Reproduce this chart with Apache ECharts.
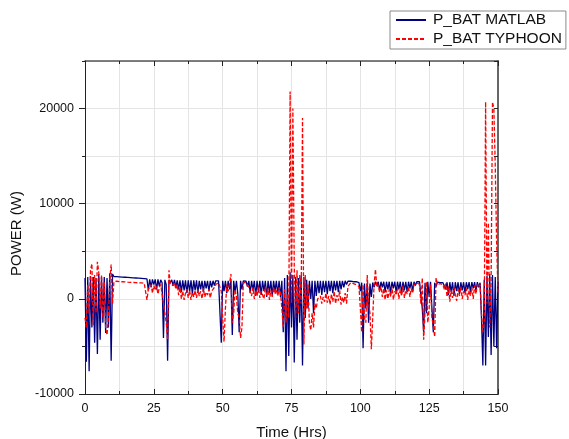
<!DOCTYPE html>
<html>
<head>
<meta charset="utf-8">
<script src="https://cdn.jsdelivr.net/npm/echarts@6/dist/echarts.min.js"></script>
<style>
html,body{margin:0;padding:0;background:#fff;}
#chart{width:569px;height:439px;}
</style>
</head>
<body>
<div id="chart"></div>
<script>
// Time axis samples (hours)
const hours = [
0,0.5,1,1.5,2,2.5,3,3.5,4,4.5,5,5.5,6,6.5,7,7.5,8,8.5,9,9.5,
10,10.5,11,11.5,12,12.5,13,13.5,14,14.5,15,15.5,16,16.5,17,17.5,18,18.5,19,19.5,
20,20.5,21,21.5,22,22.5,23,23.5,24,24.5,25,25.5,26,26.5,27,27.5,28,28.5,29,29.5,
30,30.5,31,31.5,32,32.5,33,33.5,34,34.5,35,35.5,36,36.5,37,37.5,38,38.5,39,39.5,
40,40.5,41,41.5,42,42.5,43,43.5,44,44.5,45,45.5,46,46.5,47,47.5,48,48.5,49,49.5,
50,50.5,51,51.5,52,52.5,53,53.5,54,54.5,55,55.5,56,56.5,57,57.5,58,58.5,59,59.5,
60,60.5,61,61.5,62,62.5,63,63.5,64,64.5,65,65.5,66,66.5,67,67.5,68,68.5,69,69.5,
70,70.5,71,71.5,72,72.5,73,73.5,74,74.5,75,75.5,76,76.5,77,77.5,78,78.5,79,79.5,
80,80.5,81,81.5,82,82.5,83,83.5,84,84.5,85,85.5,86,86.5,87,87.5,88,88.5,89,89.5,
90,90.5,91,91.5,92,92.5,93,93.5,94,94.5,95,95.5,96,96.5,97,97.5,98,98.5,99,99.5,
100,100.5,101,101.5,102,102.5,103,103.5,104,104.5,105,105.5,106,106.5,107,107.5,108,108.5,109,109.5,
110,110.5,111,111.5,112,112.5,113,113.5,114,114.5,115,115.5,116,116.5,117,117.5,118,118.5,119,119.5,
120,120.5,121,121.5,122,122.5,123,123.5,124,124.5,125,125.5,126,126.5,127,127.5,128,128.5,129,129.5,
130,130.5,131,131.5,132,132.5,133,133.5,134,134.5,135,135.5,136,136.5,137,137.5,138,138.5,139,139.5,
140,140.5,141,141.5,142,142.5,143,143.5,144,144.5,145,145.5,146,146.5,147,147.5,148,148.5,149,149.5,
150
];

// P_BAT MATLAB (W)
const pBatMatlab = [
2200,-6600,2300,-7600,2400,-3000,2300,-4600,2200,-5800,2600,-4300,2300,-2500,2300,-3600,2200,-3000,2700,-6500,
2600,2350,2340,2330,2320,2310,2300,2290,2280,2270,2260,2250,2240,2230,2220,2210,2200,2190,2180,2170,
2160,2150,2140,2130,2120,2100,900,2050,1200,2050,1500,2050,1000,2050,1300,2000,1700,-4100,2000,1500,
-6500,2000,1700,2000,1400,2000,1200,1950,1000,1950,700,1950,900,1950,600,1950,800,1950,500,1950,
900,1950,600,1900,1000,1900,700,1900,1100,1900,800,1900,1200,1900,1400,1900,1700,1900,1800,-4600,
1900,800,1900,600,1900,1000,1900,-3800,1900,700,1900,500,-3500,1900,1000,1900,1900,1850,1300,1900,
600,1900,900,1900,300,1900,700,1900,400,1900,800,1900,200,1900,600,1900,300,1900,800,1900,
500,1900,200,1900,-3500,2200,-7600,2500,-6000,2800,-3000,2500,-6700,2300,-4300,2200,-2500,2400,-7000,2300,
-2000,2000,-1000,1900,0,1900,-1500,1900,300,1900,600,1900,400,1900,700,1900,500,1900,800,1900,
600,1900,900,1900,700,1900,1000,1900,1200,1900,1500,1850,1800,1850,1800,1800,1800,1800,1750,1700,
800,1700,-5200,1600,-1000,1700,-2500,1600,200,1700,1200,1800,1400,1800,900,1800,1200,1800,700,1800,
1000,1800,600,1800,1100,1800,700,1800,1000,1800,600,1800,900,1800,700,1800,1100,1800,800,1800,
1400,1800,1700,1800,1750,-1000,-3500,1700,-1500,1800,200,1800,-1000,-3500,1700,1300,1750,1700,1700,1700,
1700,1700,1000,1750,400,1750,700,1750,300,1750,800,1750,500,1750,900,1750,600,1750,1000,1750,
700,1750,1100,1750,800,1750,1200,1700,-2000,-7000,2000,-7000,2400,-4000,2600,-5900,2500,-5000,2300,-5200,
1800
];

// P_BAT TYPHOON (W)
const pBatTyphoon = [
-2000,-3000,1500,-1500,3000,3700,-2800,2500,-1500,3900,2800,-1000,2500,-2000,1800,-3000,-3800,-2000,2000,3600,
-500,1800,1850,1850,1850,1800,1800,1800,1800,1780,1760,1750,1750,1740,1730,1720,1710,1700,1700,1690,
1680,1670,1660,1650,1640,-100,1000,800,1500,600,1400,900,1300,500,1200,1500,1500,-500,-1500,-2500,
-4300,3000,1500,1700,1400,1700,1000,1500,400,1200,0,800,-100,600,1000,100,900,-100,700,200,
900,100,1000,300,800,0,1100,200,700,400,1000,100,800,600,1200,1500,1700,1700,1500,800,
-2000,-4500,-1000,1500,800,1600,2600,-2500,-1500,1000,200,-1500,-2000,-4100,-3000,1700,1800,1700,1500,1200,
1400,300,1200,0,900,300,1300,100,800,1000,0,1300,400,1100,-100,900,200,1200,500,1000,
300,1200,600,-1000,-3000,1000,-2500,500,-2000,21800,-500,20000,3500,-2000,3000,-1500,2500,-500,19000,-4800,
2500,-1000,1500,-2500,-3300,-1500,-3000,-500,-1000,0,-200,300,-500,200,-300,600,-400,300,-600,500,
-300,800,-500,400,-200,900,-600,200,-400,600,-500,1300,1500,1700,1700,1600,1600,1500,1500,1300,
-1000,-3500,1500,-2000,-2500,2500,-500,-1500,-5300,-2000,1500,3100,1200,1500,700,1300,200,1100,-100,900,
0,1000,200,1300,-100,800,400,1200,0,1000,300,1400,100,900,500,1300,200,1100,600,1500,
1600,1700,1650,1500,-500,2200,-4300,-1500,1800,-2500,-1000,1500,-2000,-2800,-4000,2200,1500,1600,1600,1500,
1500,1000,1600,200,1300,-300,900,100,1200,400,-200,1000,300,1300,0,800,400,1100,-100,900,
300,1200,0,1400,500,1500,1200,1500,-1500,-3500,-2500,20700,-500,8000,-3000,2000,20700,20000,14000,6000,
500
];

const seriesNames = ['P_BAT MATLAB', 'P_BAT TYPHOON'];
const xTitle = 'Time (Hrs)';
const yTitle = 'POWER (W)';

const FONT = 'Liberation Sans, Arial, sans-serif';
const chart = echarts.init(document.getElementById('chart'), null, {renderer: 'canvas'});

const gridColor = '#e4e4e4';
const plainNum = v => String(v);

chart.setOption({
  animation: false,
  backgroundColor: '#fff',
  grid: {left: 85, right: 71, top: 61, bottom: 45, containLabel: false, outerBoundsMode: 'none', show: false},
  legend: {
    data: seriesNames,
    orient: 'vertical',
    left: 390, top: 11,
    itemWidth: 30, itemHeight: 14, itemGap: 3,
    padding: [1, 4, 2, 5],
    borderColor: '#8a8a8a', borderWidth: 1,
    backgroundColor: '#fff',
    itemStyle: {opacity: 0, borderWidth: 0},
    textStyle: {fontFamily: FONT, fontSize: 15.5, color: '#111', padding: [0,0,0,2]}
  },
  xAxis: [
    {
      type: 'value', min: 0, max: 150, interval: 25, position: 'bottom',
      axisLine: {show: true, onZero: false, lineStyle: {color: '#222', width: 1}},
      axisTick: {show: true, inside: true, length: 5, lineStyle: {color: '#222'}},
      minorTick: {show: true, splitNumber: 2, length: 3, lineStyle: {color: '#222'}},
      splitLine: {show: true, lineStyle: {color: gridColor, width: 1}},
      minorSplitLine: {show: true, lineStyle: {color: gridColor, width: 1}},
      axisLabel: {color: '#111', fontFamily: FONT, fontSize: 12.5, margin: 8, formatter: plainNum},
      name: xTitle, nameLocation: 'middle', nameGap: 31,
      nameTextStyle: {fontFamily: FONT, fontSize: 15, color: '#111'}
    },
    {
      type: 'value', min: 0, max: 150, interval: 25, position: 'top',
      axisLine: {show: true, onZero: false, lineStyle: {color: '#555', width: 1.5}},
      axisTick: {show: true, inside: true, length: 5, lineStyle: {color: '#222'}},
      minorTick: {show: true, splitNumber: 2, length: 3, lineStyle: {color: '#222'}},
      splitLine: {show: false},
      axisLabel: {show: false}
    }
  ],
  yAxis: [
    {
      type: 'value', min: -10000, max: 25000, interval: 5000, position: 'left',
      axisLine: {show: true, onZero: false, lineStyle: {color: '#222', width: 1}},
      axisTick: {show: true, inside: false, length: 3, lineStyle: {color: '#222'}},
      splitLine: {show: true, lineStyle: {color: gridColor, width: 1}},
      axisLabel: {show: false}
    },
    {
      type: 'value', min: -10000, max: 25000, interval: 10000, position: 'left',
      axisLine: {show: true, onZero: false, lineStyle: {color: '#222', width: 1}},
      axisTick: {show: true, inside: false, length: 6, lineStyle: {color: '#222'}},
      splitLine: {show: false},
      axisLabel: {color: '#111', fontFamily: FONT, fontSize: 12.5, margin: 11, showMaxLabel: false, formatter: plainNum},
      name: yTitle, nameLocation: 'middle', nameGap: 53,
      nameTextStyle: {fontFamily: FONT, fontSize: 15, color: '#111', padding: [0, 12, 0, 0]}
    },
    {
      type: 'value', min: -10000, max: 25000, interval: 5000, position: 'right',
      axisLine: {show: true, onZero: false, lineStyle: {color: '#666', width: 2}},
      axisTick: {show: true, inside: true, length: 4, lineStyle: {color: '#222'}},
      splitLine: {show: false},
      axisLabel: {show: false}
    }
  ],
  series: [
    {
      name: seriesNames[0], type: 'line', xAxisIndex: 0, yAxisIndex: 0,
      data: hours.map((h, i) => [h, pBatMatlab[i]]),
      symbol: 'none', showSymbol: false,
      lineStyle: {color: '#000080', width: 1.3},
      itemStyle: {color: '#000080'},
      z: 2
    },
    {
      name: seriesNames[1], type: 'line', xAxisIndex: 0, yAxisIndex: 0,
      data: hours.map((h, i) => [h, pBatTyphoon[i]]),
      symbol: 'none', showSymbol: false,
      lineStyle: {color: '#ff0000', width: 1.3, type: [4, 2]},
      itemStyle: {color: '#ff0000'},
      z: 3
    }
  ]
});
</script>
</body>
</html>
